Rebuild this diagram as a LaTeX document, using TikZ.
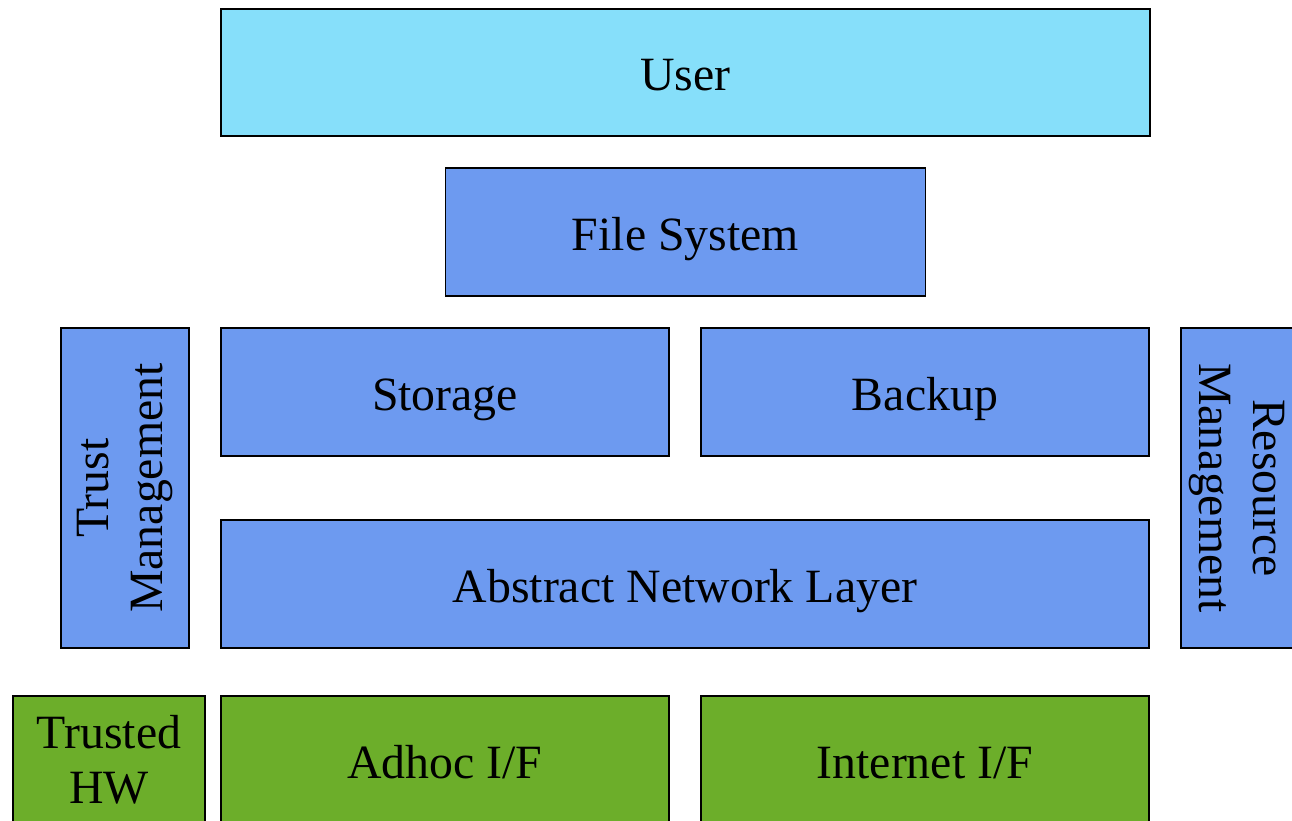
\documentclass[tikz,border=0pt]{standalone}
\usepackage{fontspec}
\setmainfont{Liberation Serif}
\usepackage{xcolor}
\usepackage{tikz}
\usetikzlibrary{positioning}

\definecolor{userblue}{RGB}{134,223,250}
\definecolor{layerblue}{RGB}{109,154,240}
\definecolor{hwgreen}{RGB}{108,174,42}

\begin{document}
\begin{tikzpicture}[x=0.02cm, y=-0.02cm,
  lbox/.style={draw, line width=1pt, fill=layerblue, align=center, inner sep=0pt, outer sep=0pt,
               font=\fontsize{27.2}{31}\selectfont, minimum height=2.56cm},
  onel/.style={text height=23pt, text depth=2pt},
  ubox/.style={lbox, onel, fill=userblue},
  gbox/.style={lbox, fill=hwgreen},
  sbox/.style={lbox, minimum width=6.4cm}
]
\useasboundingbox (0,0) rectangle (1292,821);

\node[ubox, minimum width=18.58cm, minimum height=2.54cm] (user) at (685.5,72.5) {User};
\node[lbox, onel, minimum width=9.6cm, below=0.64cm of user] (fs) {File System};
\node[lbox, onel, minimum width=8.96cm] (storage) at (445,392) {Storage};
\node[lbox, onel, minimum width=8.96cm, right=0.64cm of storage] (backup) {Backup};
\node[lbox, onel, minimum width=18.56cm] (anl) at (685,584) {Abstract Network Layer};

\node[sbox, minimum height=2.56cm, rotate=90] (trust) at (125,488) {Trust\\Management};
\node[sbox, minimum height=2.24cm, rotate=-90] (resource) at (1237,488) {Resource\\Management};

\node[gbox, minimum width=3.84cm] (thw) at (109,760) {Trusted\\HW};
\node[gbox, onel, minimum width=8.96cm] (adhoc) at (445,760) {Adhoc I/F};
\node[gbox, onel, minimum width=8.96cm, right=0.64cm of adhoc] (inet) {Internet I/F};
\end{tikzpicture}
\end{document}
